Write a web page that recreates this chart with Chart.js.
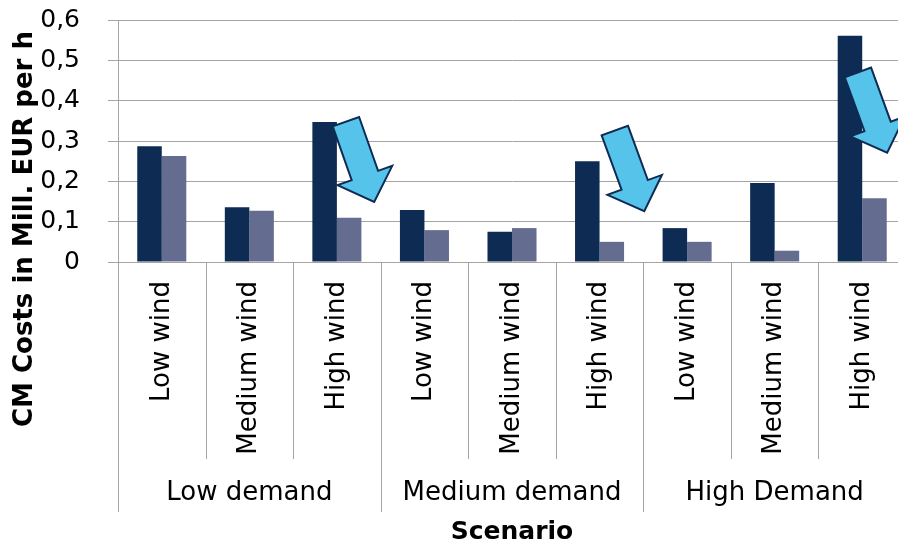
<!DOCTYPE html>
<html><head><meta charset="utf-8">
<script src="https://cdn.jsdelivr.net/npm/chart.js@4/dist/chart.umd.min.js"></script>
<style>html,body{margin:0;padding:0;background:#fff;overflow:hidden;width:898px;height:545px}canvas{display:block}</style>
</head><body><canvas id="c" width="906" height="545"></canvas>
<script>
// ---- data ----
const demandGroups = ['Low demand', 'Medium demand', 'High Demand'];
const windLevels = ['Low wind', 'Medium wind', 'High wind'];
const seriesNames = ['Series 1', 'Series 2'];
const darkValues  = [0.287, 0.136, 0.347, 0.129, 0.075, 0.250, 0.084, 0.196, 0.561];
const lightValues = [0.263, 0.127, 0.110, 0.079, 0.084, 0.050, 0.050, 0.028, 0.158];
const yTickValues = [0, 0.1, 0.2, 0.3, 0.4, 0.5, 0.6];
const yTitle = 'CM Costs in Mill. EUR per h';
const xTitle = 'Scenario';
// arrows: [category index, offset within category (fraction of width), value] for tail and tip
const arrowTails = [[2, 0.103, 0.348], [5, 0.174, 0.326], [8, -0.049, 0.470]];
const arrowTips  = [[2, 0.426, 0.149], [5, 0.511, 0.126], [8, 0.285, 0.271]];

const categories = [];
demandGroups.forEach(() => windLevels.forEach(w => categories.push(w)));

const FONT = '"DejaVu Sans", Verdana, sans-serif';
const GRID = '#a4a4a4';

function drawArrow(ctx, tx, ty, hx, hy) {
  const dx = hx - tx, dy = hy - ty, L = Math.hypot(dx, dy);
  const ux = dx / L, uy = dy / L, nx = -uy, ny = ux;
  const sw = 14, hw = 29, hl = 28;
  const pts = [[0, -sw], [L - hl, -sw], [L - hl, -hw], [L, 0], [L - hl, hw], [L - hl, sw], [0, sw]];
  ctx.beginPath();
  pts.forEach(([s, w], i) => {
    const px = tx + ux * s + nx * w, py = ty + uy * s + ny * w;
    if (i) ctx.lineTo(px, py); else ctx.moveTo(px, py);
  });
  ctx.closePath();
  ctx.fillStyle = '#55c3ea';
  ctx.fill();
  ctx.lineWidth = 2;
  ctx.lineJoin = 'miter';
  ctx.strokeStyle = '#0f2b54';
  ctx.stroke();
}

const decor = {
  id: 'decor',
  afterDatasetsDraw(chart) {
    const { ctx, chartArea: a, scales: { x, y } } = chart;
    const cw = (a.right - a.left) / categories.length;
    ctx.save();
    arrowTails.forEach((t, i) => {
      const h = arrowTips[i];
      drawArrow(ctx,
        x.getPixelForValue(t[0]) + t[1] * cw, y.getPixelForValue(t[2]),
        x.getPixelForValue(h[0]) + h[1] * cw, y.getPixelForValue(h[2]));
    });
    ctx.restore();
  },
  afterDraw(chart) {
    const { ctx, chartArea: a, scales: { x } } = chart;
    const n = categories.length;
    const cw = (a.right - a.left) / n;
    ctx.save();
    ctx.strokeStyle = GRID;
    ctx.lineWidth = 1;
    for (let i = 0; i <= n; i++) {
      const px = Math.round(x.getPixelForValue(0) - cw / 2 + i * cw) + 0.5;
      const outer = i % windLevels.length === 0;
      ctx.beginPath();
      ctx.moveTo(px, a.bottom);
      ctx.lineTo(px, a.bottom + (outer ? 250 : 197));
      ctx.stroke();
    }
    ctx.fillStyle = '#000';
    ctx.textAlign = 'center';
    ctx.textBaseline = 'middle';
    ctx.font = '26px ' + FONT;
    demandGroups.forEach((g, gi) => {
      const i0 = gi * windLevels.length, i1 = i0 + windLevels.length - 1;
      const cx = (x.getPixelForValue(i0) + x.getPixelForValue(i1)) / 2;
      ctx.fillText(g, cx, a.bottom + 231);
    });
    ctx.font = 'bold 25px ' + FONT;
    ctx.fillText(xTitle, (a.left + a.right) / 2, a.bottom + 270);
    ctx.font = 'bold 26px ' + FONT;
    ctx.translate(25, 229);
    ctx.rotate(-Math.PI / 2);
    ctx.fillText(yTitle, 0, 0);
    ctx.restore();
  }
};

new Chart(document.getElementById('c'), {
  type: 'bar',
  data: {
    labels: categories,
    datasets: [
      { label: seriesNames[0], data: darkValues, backgroundColor: '#0e2b53' },
      { label: seriesNames[1], data: lightValues, backgroundColor: '#646c8f' }
    ]
  },
  options: {
    responsive: false,
    devicePixelRatio: 1,
    animation: false,
    layout: { padding: { top: 20, left: 0, right: 0, bottom: 0 } },
    datasets: { bar: { categoryPercentage: 0.56, barPercentage: 1.0 } },
    plugins: { legend: { display: false }, tooltip: { enabled: false } },
    scales: {
      x: {
        grid: { display: false },
        border: { display: false },
        ticks: {
          autoSkip: false, minRotation: 90, maxRotation: 90,
          color: '#000', padding: 11,
          font: { family: FONT, size: 26 }
        },
        afterFit: s => { s.height = 283; s.paddingLeft = 0; s.paddingRight = 0; s.paddingTop = 0; s.paddingBottom = 0; }
      },
      y: {
        min: 0, max: 0.6,
        afterBuildTicks: s => { s.ticks = yTickValues.map(v => ({ value: v })); },
        grid: { color: GRID, lineWidth: 1, tickLength: 10 },
        border: { color: GRID, width: 1 },
        ticks: {
          color: '#000', padding: 28,
          font: { family: FONT, size: 25 },
          callback: v => v === 0 ? '0' : v.toFixed(1).replace('.', ',')
        },
        afterFit: s => { s.width = 118; s.paddingTop = 0; s.paddingBottom = 0; s.paddingLeft = 0; s.paddingRight = 0; }
      }
    }
  },
  plugins: [decor]
});
</script>
</body></html>
